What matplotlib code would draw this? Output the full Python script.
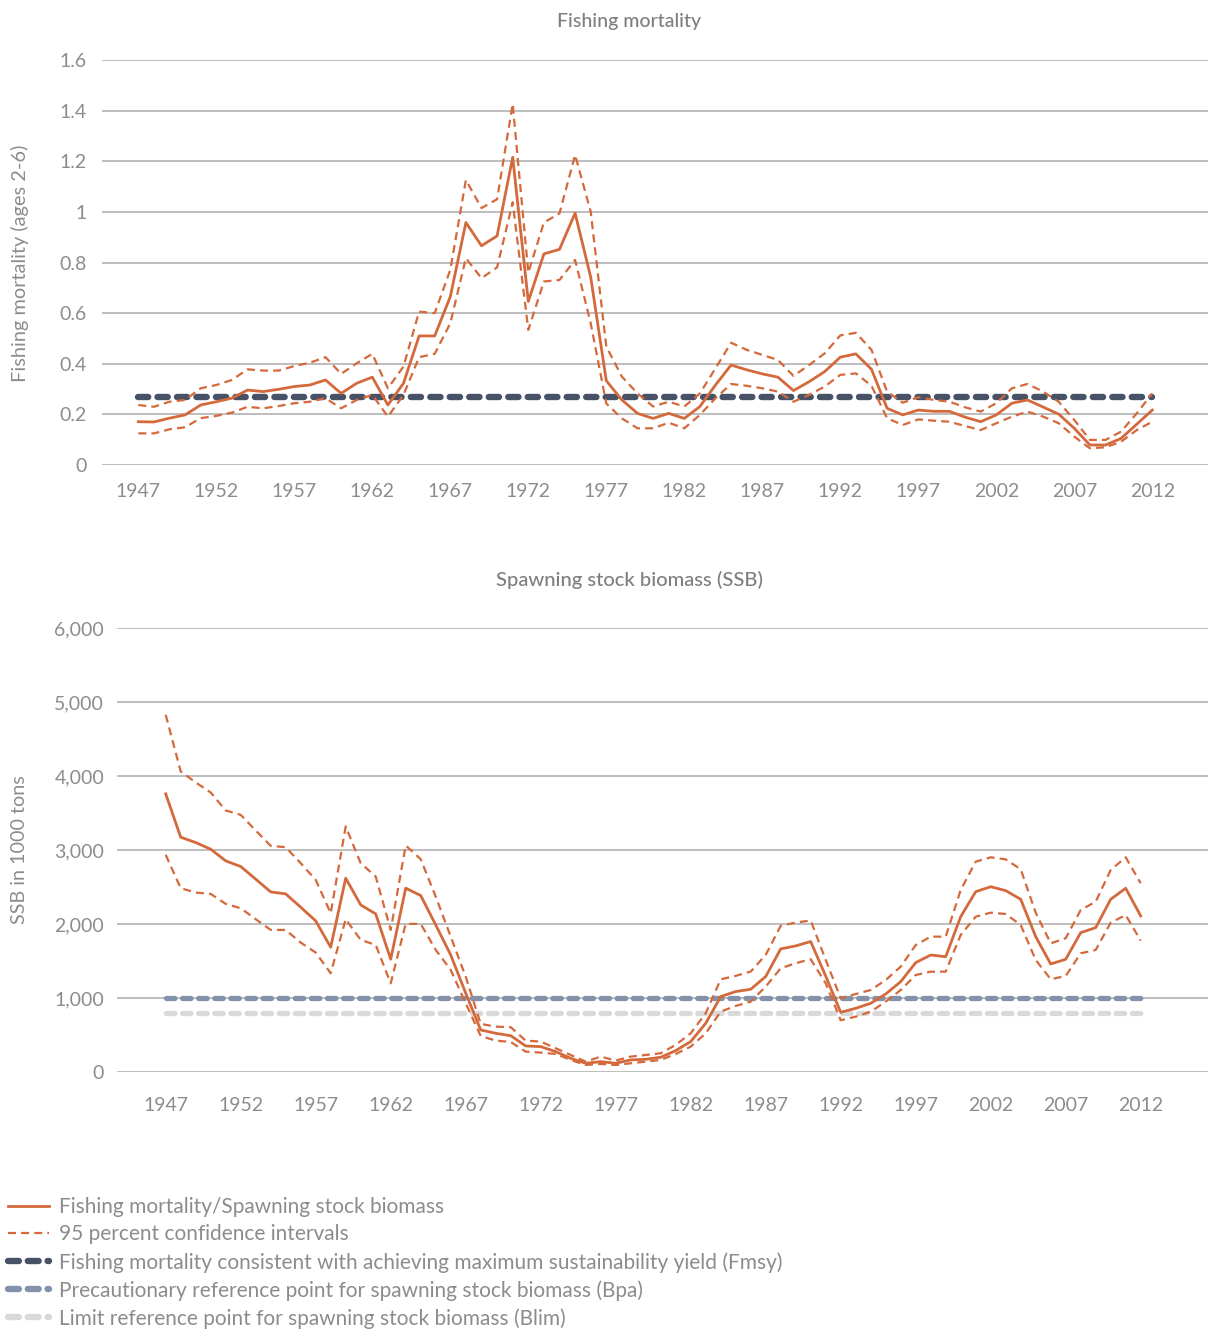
import numpy as np
import matplotlib
matplotlib.use("Agg")
import matplotlib.pyplot as plt
from matplotlib.lines import Line2D
from matplotlib.ticker import FuncFormatter, MultipleLocator

plt.rcParams['font.family'] = ['Lato', 'DejaVu Sans']

# Data
years = list(range(1947, 2013))
tick_years = list(range(1947, 2013, 5))

f_main = [0.171, 0.17, 0.185, 0.198, 0.237, 0.25, 0.264, 0.296, 0.29, 0.299,
          0.31, 0.316, 0.336, 0.283, 0.323, 0.347, 0.237, 0.323, 0.51, 0.51,
          0.665, 0.958, 0.866, 0.905, 1.216, 0.646, 0.834, 0.852, 0.995, 0.742,
          0.333, 0.257, 0.204, 0.184, 0.204, 0.184, 0.231, 0.316, 0.395, 0.376,
          0.36, 0.347, 0.294, 0.329, 0.369, 0.426, 0.439, 0.378, 0.224, 0.198,
          0.217, 0.212, 0.212, 0.189, 0.171, 0.198, 0.244, 0.257, 0.229, 0.201,
          0.145, 0.079, 0.079, 0.105, 0.161, 0.217]
f_upper = [0.237, 0.23, 0.25, 0.257, 0.303, 0.316, 0.336, 0.378, 0.373, 0.373,
           0.391, 0.404, 0.426, 0.36, 0.402, 0.439, 0.303, 0.389, 0.606, 0.6,
           0.771, 1.126, 1.015, 1.05, 1.427, 0.76, 0.958, 0.994, 1.225, 1.001,
           0.468, 0.349, 0.283, 0.231, 0.25, 0.231, 0.283, 0.382, 0.483, 0.455,
           0.435, 0.415, 0.352, 0.395, 0.441, 0.512, 0.522, 0.455, 0.29, 0.246,
           0.268, 0.257, 0.25, 0.228, 0.211, 0.244, 0.303, 0.32, 0.29, 0.25,
           0.178, 0.099, 0.099, 0.132, 0.204, 0.283]
f_lower = [0.125, 0.125, 0.141, 0.149, 0.185, 0.194, 0.207, 0.23, 0.224, 0.233,
           0.244, 0.25, 0.264, 0.224, 0.257, 0.277, 0.191, 0.277, 0.426, 0.439,
           0.56, 0.817, 0.738, 0.781, 1.038, 0.534, 0.725, 0.731, 0.81, 0.56,
           0.243, 0.184, 0.145, 0.145, 0.167, 0.145, 0.198, 0.264, 0.32, 0.313,
           0.303, 0.29, 0.25, 0.277, 0.31, 0.356, 0.362, 0.313, 0.185, 0.158,
           0.18, 0.175, 0.171, 0.154, 0.138, 0.165, 0.191, 0.211, 0.191, 0.165,
           0.112, 0.066, 0.07, 0.092, 0.138, 0.171]
fmsy = 0.27

ssb_main = [3763, 3177, 3105, 3015, 2857, 2781, 2610, 2438, 2411, 2231,
            2046, 1690, 2623, 2262, 2141, 1528, 2488, 2389, 1992, 1586,
            1070, 572, 527, 495, 356, 347, 279, 189, 122, 144,
            122, 167, 176, 203, 293, 415, 662, 1023, 1091, 1122,
            1294, 1668, 1708, 1767, 1300, 810, 865, 932, 1058, 1225,
            1482, 1585, 1562, 2103, 2441, 2508, 2455, 2338, 1833, 1464,
            1527, 1887, 1955, 2338, 2487, 2113]
ssb_upper = [4831, 4065, 3917, 3781, 3538, 3479, 3268, 3060, 3042, 2826,
             2600, 2150, 3322, 2826, 2646, 1924, 3065, 2880, 2375, 1834,
             1293, 654, 617, 610, 428, 415, 325, 234, 144, 212,
             158, 212, 234, 257, 370, 527, 798, 1257, 1303, 1361,
             1586, 1979, 2024, 2051, 1520, 1000, 1058, 1112, 1247, 1428,
             1720, 1833, 1833, 2464, 2846, 2905, 2878, 2743, 2157, 1743,
             1811, 2193, 2306, 2734, 2905, 2554]
ssb_lower = [2939, 2488, 2429, 2411, 2276, 2217, 2069, 1924, 1924, 1753,
             1618, 1339, 2069, 1789, 1722, 1203, 2006, 2006, 1654, 1384,
             933, 491, 428, 410, 279, 266, 248, 167, 99, 113,
             99, 122, 144, 167, 248, 347, 527, 820, 897, 955,
             1158, 1406, 1474, 1528, 1203, 703, 752, 819, 955, 1112,
             1315, 1360, 1360, 1856, 2103, 2157, 2139, 1991, 1518, 1257,
             1302, 1608, 1653, 2022, 2125, 1779]
bpa = 1000
blim = 800

ORANGE = '#d4693b'
NAVY = '#475266'
BLUEGREY = '#8491ab'
LIGHTGREY = '#d9d9d9'
GRID = '#ababab'
TEXT = '#8c8c8c'
REF_DASH = (0, (1.6, 1.45))

fig = plt.figure(figsize=(12.08, 13.31), dpi=100)

ax1 = fig.add_axes([102 / 1208, 866 / 1331, 1106 / 1208, 405 / 1331])
ax2 = fig.add_axes([116.7 / 1208, 258.7 / 1331, 1091.3 / 1208, 444 / 1331])

ci_style = dict(color=ORANGE, lw=1.6, linestyle=(0, (3.6, 2.3)))


def ref_line(ax, y, c, lw):
    ax.plot([years[0], years[-1]], [y, y], color=c, lw=lw, linestyle=REF_DASH,
            dash_capstyle='round', solid_capstyle='round', zorder=2)


# Fishing mortality
ref_line(ax1, fmsy, NAVY, 4.6)
ax1.plot(years, f_upper, zorder=3, **ci_style)
ax1.plot(years, f_lower, zorder=3, **ci_style)
ax1.plot(years, f_main, color=ORANGE, lw=2.0, zorder=4)
ax1.set_ylim(0, 1.6)
ax1.set_xlim(1947 - 36.3 / 15.6, 1947 + 1069.7 / 15.6)
ax1.yaxis.set_major_locator(MultipleLocator(0.2))
ax1.yaxis.set_major_formatter(FuncFormatter(lambda v, p: '{:g}'.format(round(v, 1))))

# Spawning stock biomass
ref_line(ax2, bpa, BLUEGREY, 3.8)
ref_line(ax2, blim, LIGHTGREY, 3.8)
ax2.plot(years, ssb_upper, zorder=3, **ci_style)
ax2.plot(years, ssb_lower, zorder=3, **ci_style)
ax2.plot(years, ssb_main, color=ORANGE, lw=2.0, zorder=4)
ax2.set_ylim(0, 6000)
ax2.set_xlim(1947 - 49 / 15.0, 1947 + 1042.3 / 15.0)
ax2.yaxis.set_major_locator(MultipleLocator(1000))
ax2.yaxis.set_major_formatter(FuncFormatter(lambda v, p: '{:,.0f}'.format(v)))

for ax, xpad, ypad in [(ax1, 13, 11), (ax2, 18, 9)]:
    ax.set_xticks(tick_years)
    ax.set_xticklabels([str(y) for y in tick_years])
    for s in ax.spines.values():
        s.set_visible(False)
    ax.grid(axis='y', color=GRID, lw=1.1)
    ax.set_axisbelow(True)
    ax.tick_params(axis='x', length=0, pad=xpad, labelsize=14, labelcolor=TEXT)
    ax.tick_params(axis='y', length=0, pad=ypad, labelsize=14, labelcolor=TEXT)

fig.text(629 / 1208, 1 - 21 / 1331, 'Fishing mortality', ha='center', va='center',
         fontsize=14, color='#7f7f7f', fontweight='medium')
fig.text(629 / 1208, 1 - 580 / 1331, 'Spawning stock biomass (SSB)', ha='center', va='center',
         fontsize=14.5, color='#7f7f7f', fontweight='medium')
fig.text(20 / 1208, 1 - 263 / 1331, 'Fishing mortality (ages 2-6)', rotation=90,
         ha='center', va='center', fontsize=14.4, color=TEXT)
fig.text(20 / 1208, 1 - 850 / 1331, 'SSB in 1000 tons', rotation=90,
         ha='center', va='center', fontsize=14.2, color=TEXT)

# Legend
handles = [
    Line2D([], [], color=ORANGE, lw=2.0),
    Line2D([], [], **ci_style),
    Line2D([], [], color=NAVY, lw=4.6, linestyle=(0, (1.7, 1.4)), dash_capstyle='round'),
    Line2D([], [], color=BLUEGREY, lw=4.6, linestyle=(0, (1.7, 1.4)), dash_capstyle='round'),
    Line2D([], [], color=LIGHTGREY, lw=4.6, linestyle=(0, (1.7, 1.4)), dash_capstyle='round'),
]
labels = [
    'Fishing mortality/Spawning stock biomass',
    '95 percent confidence intervals',
    'Fishing mortality consistent with achieving maximum sustainability yield (Fmsy)',
    'Precautionary reference point for spawning stock biomass (Bpa)',
    'Limit reference point for spawning stock biomass (Blim)',
]
leg = fig.legend(handles, labels, loc='upper left', bbox_to_anchor=(8 / 1208, 1 - 1197 / 1331),
                 frameon=False, fontsize=15, handlelength=1.95, handletextpad=0.5,
                 labelspacing=0.36, borderpad=0, borderaxespad=0)
for t in leg.get_texts():
    t.set_color(TEXT)

fig.savefig('out.png', dpi=100)
